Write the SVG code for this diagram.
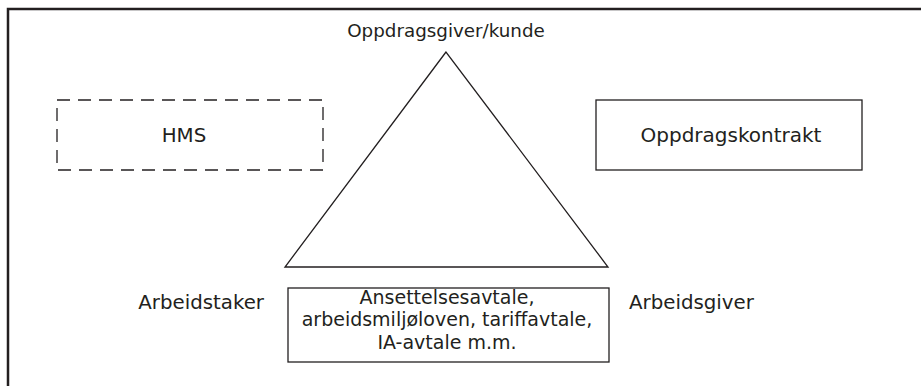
<svg xmlns="http://www.w3.org/2000/svg" width="921" height="386" viewBox="0 0 921 386">
<style>
text{font-family:"DejaVu Sans","Open Sans",sans-serif;font-size:19px;fill:#231f20;text-anchor:middle}
.t{font-size:18.3px}
.k{font-size:20px}
.s{font-size:19.8px}
.box{fill:#fff;stroke:#231f20;stroke-width:1.3}
.dash{fill:none;stroke:#231f20;stroke-width:1.3;stroke-dasharray:13 8}
</style>
<rect width="921" height="386" fill="#fff"/>
<g id="frame"><path d="M8 390 V9 H925" fill="none" stroke="#231f20" stroke-width="2.5"/></g>
<g id="triangle"><polygon points="446,52 285,267 608,267" class="box"/></g>
<g id="oppdragsgiver"><text class="t" x="446" y="37">Oppdragsgiver/kunde</text></g>
<g id="hms"><rect x="57" y="100" width="266" height="70" class="dash"/><text class="s" x="184" y="142">HMS</text></g>
<g id="oppdragskontrakt"><rect x="596" y="100" width="266" height="70" class="box"/><text class="k" x="731" y="142">Oppdragskontrakt</text></g>
<g id="arbeidstaker"><text class="s" x="264" y="309" style="text-anchor:end">Arbeidstaker</text></g>
<g id="arbeidsgiver"><text class="s" x="629" y="309" style="text-anchor:start">Arbeidsgiver</text></g>
<g id="avtale"><rect x="288" y="288" width="321" height="74" class="box"/>
<text x="447" y="303.5">Ansettelsesavtale,</text>
<text x="447" y="326">arbeidsmiljøloven, tariffavtale,</text>
<text x="447" y="348.5">IA-avtale m.m.</text></g>
<g id="connectors"/>
</svg>
